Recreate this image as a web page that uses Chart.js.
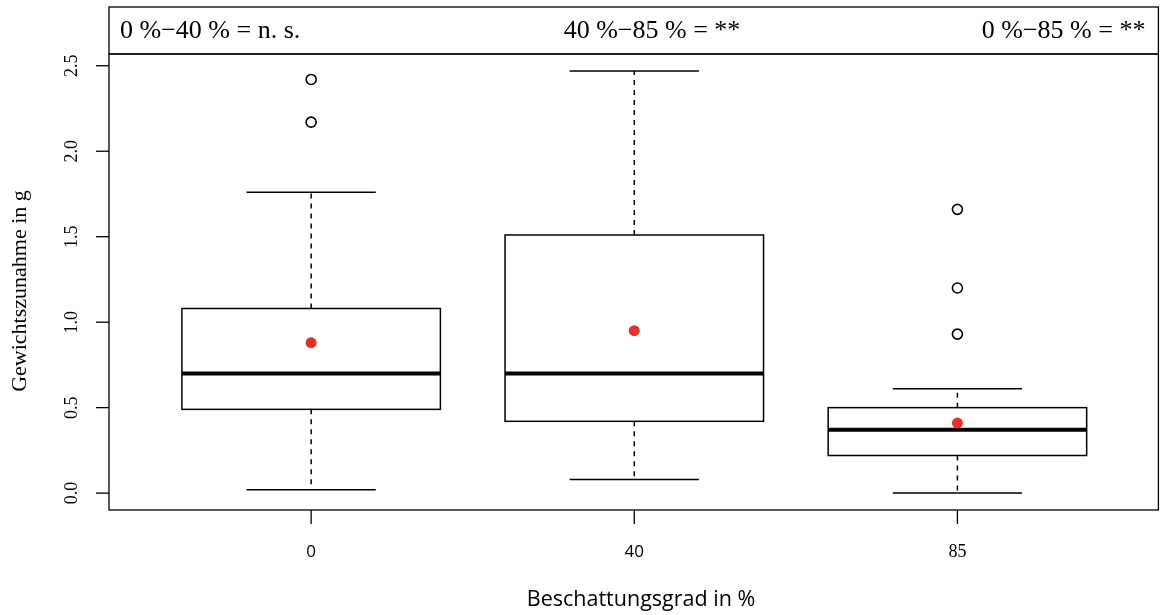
<!DOCTYPE html>
<html>
<head>
<meta charset="utf-8">
<script src="https://cdn.jsdelivr.net/npm/chart.js@4/dist/chart.umd.min.js"></script>
<style>
  body { margin: 0; background: #fff; }
  #wrap { width: 1165px; height: 615px; }
</style>
</head>
<body>
<div id="wrap"><canvas id="chart" width="1165" height="615"></canvas></div>
<script>
// Box statistics per shading level
const groups = ['0', '40', '85'];
const whiskerLow = [0.02, 0.08, 0.0];
const q1 = [0.49, 0.42, 0.22];
const median = [0.70, 0.70, 0.37];
const q3 = [1.08, 1.51, 0.50];
const whiskerHigh = [1.76, 2.47, 0.61];
const means = [0.88, 0.95, 0.41];
const outliers = [[2.17, 2.42], [], [0.93, 1.20, 1.66]];
const yTicks = [0, 0.5, 1.0, 1.5, 2.0, 2.5];
const comparisons = ['0 %\u221240 % = n. s.', '40 %\u221285 % = **', '0 %\u221285 % = **'];

const serif = '"Liberation Serif", "DejaVu Serif", serif';
const sans = '"Open Sans", "Noto Sans", sans-serif';

// Build point data for the scatter datasets
const outlierPoints = [];
outliers.forEach((vals, i) => vals.forEach(v => outlierPoints.push({ x: i + 1, y: v })));
const meanPoints = means.map((m, i) => ({ x: i + 1, y: m }));

// Draws boxes, whiskers, axes and annotations using the chart scales
const boxPlugin = {
  id: 'boxPlugin',
  beforeDatasetsDraw(chart) {
    const { ctx, chartArea: a, scales: { x, y } } = chart;
    ctx.save();
    ctx.strokeStyle = '#000';

    groups.forEach((g, i) => {
      const c = x.getPixelForValue(i + 1);
      const bl = x.getPixelForValue(i + 1 - 0.4);
      const br = x.getPixelForValue(i + 1 + 0.4);
      const sl = x.getPixelForValue(i + 1 - 0.2);
      const sr = x.getPixelForValue(i + 1 + 0.2);

      // whiskers (dashed)
      ctx.lineWidth = 1.5;
      ctx.setLineDash([5, 5]);
      ctx.beginPath();
      ctx.moveTo(c, y.getPixelForValue(q3[i]));
      ctx.lineTo(c, y.getPixelForValue(whiskerHigh[i]));
      ctx.moveTo(c, y.getPixelForValue(q1[i]));
      ctx.lineTo(c, y.getPixelForValue(whiskerLow[i]));
      ctx.stroke();
      ctx.setLineDash([]);

      // staples
      ctx.beginPath();
      ctx.moveTo(sl, y.getPixelForValue(whiskerHigh[i]));
      ctx.lineTo(sr, y.getPixelForValue(whiskerHigh[i]));
      ctx.moveTo(sl, y.getPixelForValue(whiskerLow[i]));
      ctx.lineTo(sr, y.getPixelForValue(whiskerLow[i]));
      ctx.stroke();

      // box
      ctx.fillStyle = '#fff';
      const top = y.getPixelForValue(q3[i]);
      const bot = y.getPixelForValue(q1[i]);
      ctx.fillRect(bl, top, br - bl, bot - top);
      ctx.strokeRect(bl, top, br - bl, bot - top);

      // median
      ctx.lineWidth = 4;
      ctx.beginPath();
      ctx.moveTo(bl, y.getPixelForValue(median[i]));
      ctx.lineTo(br, y.getPixelForValue(median[i]));
      ctx.stroke();
    });

    // plot frame and header strip
    ctx.lineWidth = 1.3;
    ctx.strokeRect(a.left, a.top, a.right - a.left, a.bottom - a.top);
    ctx.strokeRect(a.left, 7, a.right - a.left, a.top - 7);

    // header text
    ctx.fillStyle = '#000';
    ctx.font = '26px ' + serif;
    ctx.textBaseline = 'middle';
    const hy = (7 + a.top) / 2 + 1;
    ctx.textAlign = 'left';
    ctx.fillText(comparisons[0], a.left + 11, hy);
    ctx.textAlign = 'center';
    ctx.fillText(comparisons[1], 652, hy);
    ctx.textAlign = 'right';
    ctx.fillText(comparisons[2], a.right - 13, hy);

    // y axis ticks and labels
    ctx.lineWidth = 1.3;
    ctx.font = '18px ' + serif;
    yTicks.forEach(t => {
      const py = y.getPixelForValue(t);
      ctx.beginPath();
      ctx.moveTo(a.left - 13, py);
      ctx.lineTo(a.left, py);
      ctx.stroke();
      ctx.save();
      ctx.translate(72, py);
      ctx.rotate(-Math.PI / 2);
      ctx.textAlign = 'center';
      ctx.textBaseline = 'middle';
      ctx.fillText(t.toFixed(1), 0, 0);
      ctx.restore();
    });

    // x axis ticks and labels
    groups.forEach((g, i) => {
      const px = x.getPixelForValue(i + 1);
      ctx.beginPath();
      ctx.moveTo(px, a.bottom);
      ctx.lineTo(px, a.bottom + 14);
      ctx.stroke();
      ctx.font = (i < 2 ? '17px ' + sans : '18px ' + serif);
      ctx.textAlign = 'center';
      ctx.textBaseline = 'middle';
      ctx.fillText(g, px, 552);
    });

    // axis titles
    ctx.font = '21.5px ' + sans;
    ctx.textAlign = 'center';
    ctx.fillText('Beschattungsgrad in %', 641, 600);
    ctx.save();
    ctx.translate(20, 291);
    ctx.rotate(-Math.PI / 2);
    ctx.font = '22px ' + serif;
    ctx.fillText('Gewichtszunahme in g', 0, 0);
    ctx.restore();

    ctx.restore();
  }
};

new Chart(document.getElementById('chart'), {
  type: 'scatter',
  data: {
    datasets: [
      {
        label: 'Ausreißer',
        data: outlierPoints,
        pointRadius: 5,
        pointBackgroundColor: 'rgba(0,0,0,0)',
        pointBorderColor: '#000',
        pointBorderWidth: 1.6
      },
      {
        label: 'Mittelwert',
        data: meanPoints,
        pointRadius: 5.5,
        pointBackgroundColor: '#e8302a',
        pointBorderColor: '#e8302a',
        pointBorderWidth: 0
      }
    ]
  },
  options: {
    responsive: false,
    animation: false,
    layout: { padding: { left: 109, right: 2, top: 54, bottom: 105 } },
    plugins: { legend: { display: false }, tooltip: { enabled: false } },
    scales: {
      x: { type: 'linear', min: 0.3744, max: 3.622, display: false },
      y: { type: 'linear', min: -0.0988, max: 2.5688, display: false }
    }
  },
  plugins: [boxPlugin]
});
</script>
</body>
</html>
